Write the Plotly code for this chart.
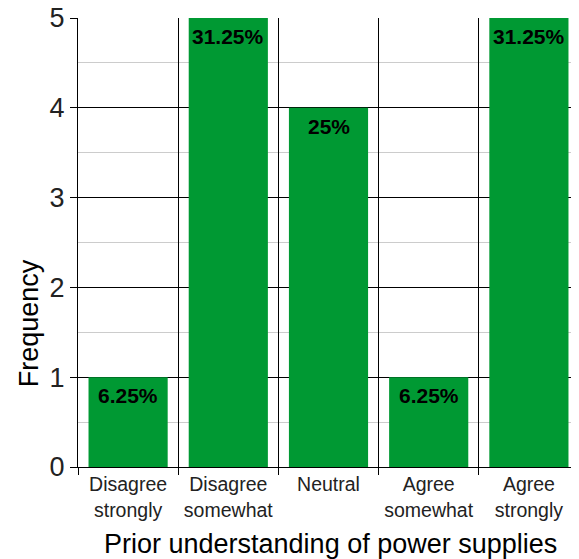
import plotly.graph_objects as go

categories = ["Disagree<br>strongly", "Disagree<br>somewhat", "Neutral", "Agree<br>somewhat", "Agree<br>strongly"]
frequency = [1, 5, 4, 1, 5]
percent_labels = ["6.25%", "31.25%", "25%", "6.25%", "31.25%"]
x_title = "Prior understanding of power supplies"
y_title = "Frequency"

FONT = "Liberation Sans, Arial"

fig = go.Figure(go.Bar(
    x=categories, y=frequency,
    marker=dict(color="#009933", line=dict(width=0)),
))

for c, f, t in zip(categories, frequency, percent_labels):
    fig.add_annotation(
        x=c, y=f, text=f"<b>{t}</b>", showarrow=False,
        yanchor="top", yshift=-5,
        font=dict(family=FONT, size=21, color="black"),
    )

fig.add_annotation(
    text=x_title, xref="paper", yref="paper", x=0.503, y=0,
    xanchor="center", yanchor="middle", yshift=-77, showarrow=False,
    font=dict(family=FONT, size=27, color="black"),
)
fig.add_annotation(
    text=y_title, xref="paper", yref="paper", x=0, y=0.32,
    xanchor="center", yanchor="middle", xshift=-49, textangle=-90, showarrow=False,
    font=dict(family=FONT, size=27, color="black"),
)

fig.update_layout(
    width=571, height=551,
    margin=dict(l=70, r=0, t=10, b=92),
    plot_bgcolor="white", paper_bgcolor="white",
    bargap=0.21, showlegend=False,
    font=dict(family=FONT, color="black"),
)
fig.update_xaxes(
    type="category", tickson="boundaries", automargin=False,
    showgrid=True, gridcolor="black", gridwidth=1,
    ticks="outside", ticklen=7, tickcolor="black",
    showline=True, linecolor="black", linewidth=1,
    tickfont=dict(size=19.5, color="#222"),
)
fig.update_yaxes(
    range=[0, 5], dtick=1, automargin=False,
    ticklabeloverflow="allow",
    showgrid=True, gridcolor="black", gridwidth=1,
    minor=dict(dtick=0.5, showgrid=True, gridcolor="#cccccc", gridwidth=1),
    ticks="outside", ticklen=7, tickcolor="black",
    showline=True, linecolor="black", linewidth=1,
    zeroline=False,
    tickfont=dict(size=27, color="#222"),
)

fig.write_html("out.html")
